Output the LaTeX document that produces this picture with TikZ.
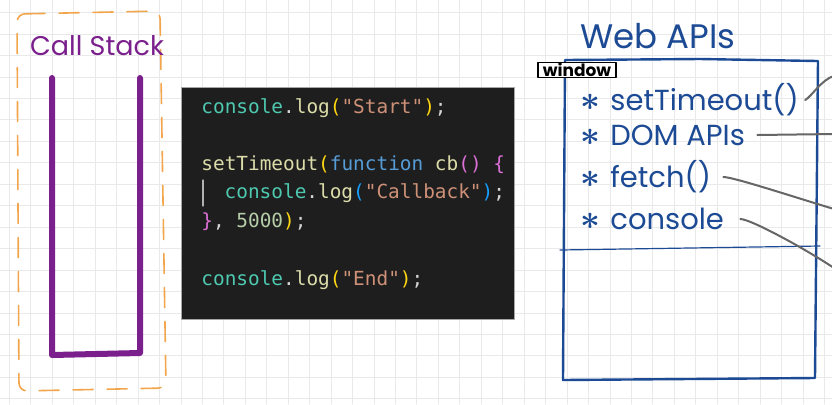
\documentclass[tikz,border=0pt]{standalone}
\usepackage{fontspec}
\usepackage{amsmath}
\setmainfont{Poppins}
\setmonofont{DejaVu Sans Mono}
\usetikzlibrary{positioning}

\definecolor{gridgray}{HTML}{E9E9E9}
\definecolor{stackpurple}{HTML}{7A1F8C}
\definecolor{dashorange}{HTML}{F2A54A}
\definecolor{apiblue}{HTML}{1C4A94}
\definecolor{wiregray}{HTML}{666666}
\definecolor{codebg}{HTML}{1E1E1E}
\definecolor{jsteal}{HTML}{4EC9B0}
\definecolor{jsfunc}{HTML}{DCDCAA}
\definecolor{jspunct}{HTML}{D4D4D4}
\definecolor{jsparen}{HTML}{FFD710}
\definecolor{jsstr}{HTML}{CE9178}
\definecolor{jskey}{HTML}{569CD6}
\definecolor{jspurple}{HTML}{DA70D6}
\definecolor{jsnum}{HTML}{B5CEA8}
\definecolor{jsblue}{HTML}{179FFF}

\newcommand{\tk}[2]{\textcolor{#1}{#2}}
\newcommand{\bul}{\makebox[15pt][l]{\smash{\fontsize{18}{18}\selectfont$\boldsymbol{\ast}$}}}

\tikzset{
  stackwall/.style={draw=stackpurple,line width=3pt,line cap=round,line join=round},
  stackframe/.style={draw=dashorange,line width=0.8pt,dash pattern=on 10pt off 7pt,rounded corners=4pt},
  apibox/.style={draw=apiblue,line width=1.2pt,line cap=round},
  apiwire/.style={draw=wiregray,line width=1pt,line cap=round},
  apiitem/.style={anchor=west,text=apiblue,font=\fontsize{14.5}{16}\selectfont,inner sep=0pt},
  codeline/.style={anchor=west,font=\fontsize{9.7}{11}\ttfamily,inner sep=0pt},
}

\begin{document}
\begin{tikzpicture}[x=0.5pt,y=-0.5pt,line cap=round,line join=round]
  \useasboundingbox (0,0) rectangle (832,404);
  \fill[white] (0,0) rectangle (832,404);
  % grid paper
  \foreach \x in {9.4,30.85,...,832} {
    \draw[gridgray,line width=0.5pt] (\x,0) -- (\x,404);
  }
  \foreach \y in {12.7,34.15,...,404} {
    \draw[gridgray,line width=0.5pt] (0,\y) -- (832,\y);
  }

  % call stack
  \draw[stackframe] (17,14) -- (160,11) -- (166,388) -- (19,391) -- cycle;
  \node[text=stackpurple,font=\fontsize{13.5}{16}\selectfont,inner sep=0pt] (stacktitle) at (97,46) {Call Stack};
  \draw[stackwall] (52,78) -- (52,355) -- (140,353) -- (140,78);

  % code
  \node[fill=codebg,draw=gray!70,line width=0.5pt,minimum width=166.5pt,minimum height=116pt,inner sep=0pt] (code) at (347.5,203) {};
  \draw[gray!60,line width=0.6pt] (203,180) -- (203,206);
  \node[codeline] (code1) at (201,108) {\tk{jsteal}{console}\tk{jspunct}{.}\tk{jsfunc}{log}\tk{jsparen}{(}\tk{jsstr}{"Start"}\tk{jsparen}{)}\tk{jspunct}{;}};
  \node[codeline] (code2) at (201,165) {\tk{jsfunc}{setTimeout}\tk{jsparen}{(}\tk{jskey}{function} \tk{jsfunc}{cb}\tk{jspurple}{()} \tk{jspurple}{\{}};
  \node[codeline] (code3) at (224.3,193) {\tk{jsteal}{console}\tk{jspunct}{.}\tk{jsfunc}{log}\tk{jsblue}{(}\tk{jsstr}{"Callback"}\tk{jsblue}{)}\tk{jspunct}{;}};
  \node[codeline] (code4) at (201,222) {\tk{jspurple}{\}}\tk{jspunct}{,} \tk{jsnum}{5000}\tk{jsparen}{)}\tk{jspunct}{;}};
  \node[codeline] (code5) at (201,280) {\tk{jsteal}{console}\tk{jspunct}{.}\tk{jsfunc}{log}\tk{jsparen}{(}\tk{jsstr}{"End"}\tk{jsparen}{)}\tk{jspunct}{;}};

  % web apis
  \node[text=apiblue,font=\fontsize{17}{19}\selectfont,inner sep=0pt] (apititle) at (658,36) {Web APIs};
  \draw[apibox] (565,60) -- (700,59) -- (818,61) -- (815,378) -- (563,380) -- cycle;
  \draw[apiblue,line width=0.6pt] (560,250) -- (820,246);
  \node[draw=black,fill=white,line width=0.8pt,inner xsep=2.5pt,inner ysep=0.3pt,font=\fontsize{8.5}{9}\selectfont\bfseries] (window) at (577,70) {window};
  \node[apiitem] (settimeout) at (580,100) {\bul setTimeout()};
  \node[apiitem] (domapis) at (580,135) {\bul DOM APIs};
  \node[apiitem] (fetch) at (580,177) {\bul fetch()};
  \node[apiitem] (console) at (580,219) {\bul console};

  % wires to the right
  \coordinate (wire1) at (834,76);
  \coordinate (wire2) at (834,134);
  \coordinate (wire3) at (834,209);
  \coordinate (wire4) at (834,268);
  \draw[apiwire] ([xshift=3pt]settimeout.east) .. controls +(6,-3) and +(-12,3) .. (wire1);
  \draw[apiwire] ([xshift=6pt]domapis.east) -- (wire2);
  \draw[apiwire] ([xshift=6pt]fetch.east) .. controls +(10,0) and +(-40,-12) .. (wire3);
  \draw[apiwire] ([xshift=8pt]console.east) .. controls +(10,0) and +(-30,-20) .. (wire4);
\end{tikzpicture}
\end{document}
